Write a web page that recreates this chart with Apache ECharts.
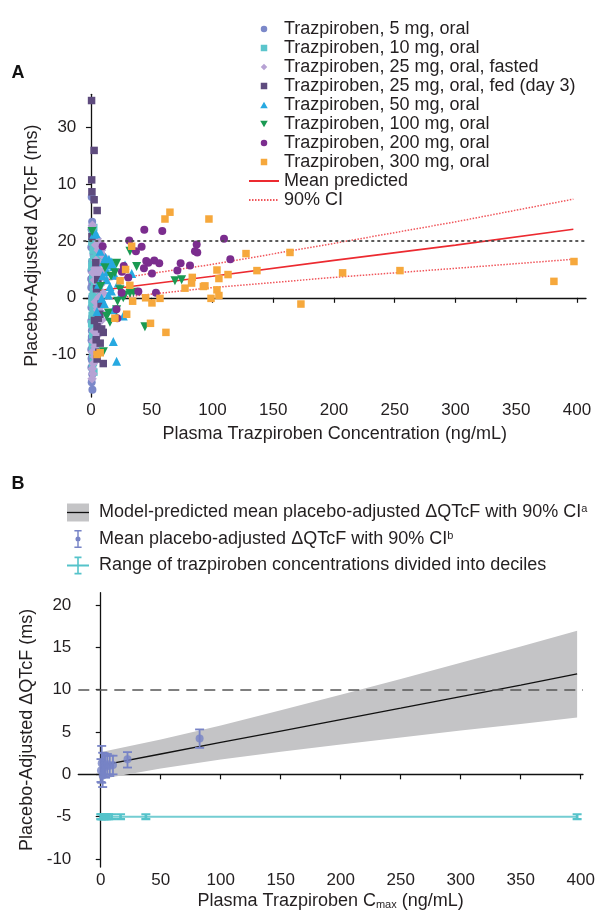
<!DOCTYPE html>
<html><head><meta charset="utf-8">
<script src="https://cdn.jsdelivr.net/npm/echarts@6/dist/echarts.min.js"></script>
<style>html,body{margin:0;padding:0;background:#fff}#c{width:598px;height:912px}</style>
</head><body><div id="c"></div><script>
const FONT = '"Liberation Sans", Arial, Helvetica, sans-serif';
const TXT = '#231F20';

// ---------- Panel A data ----------
const xTicks = [0, 50, 100, 150, 200, 250, 300, 350, 400];
const yTickValuesA = [-10, 0, 10, 20, 30];
const yTickLabelsA = ['-10', '0', '20', '10', '30'];
const thresholdA = 10;

const doseNames = ['Trazpiroben, 5 mg, oral', 'Trazpiroben, 10 mg, oral', 'Trazpiroben, 25 mg, oral, fasted',
  'Trazpiroben, 25 mg, oral, fed (day 3)', 'Trazpiroben, 50 mg, oral', 'Trazpiroben, 100 mg, oral',
  'Trazpiroben, 200 mg, oral', 'Trazpiroben, 300 mg, oral'];

const dose5 = [[0.6,17.8],[1.2,-16.2],[0.5,12.1],[1.4,10.3],[0.3,8.9],[2.1,7.6],[0.9,6.4],[2.6,5.7],[0.4,4.8],[1.8,3.9],
  [1.0,2.6],[0.3,1.8],[2.3,0.9],[0.8,0.1],[1.5,-0.8],[0.4,-1.7],[2.4,-2.5],[1.1,-3.4],[0.3,-4.1],[1.9,-4.9],
  [0.7,-5.8],[2.2,-6.7],[0.5,-7.5],[1.6,-8.4],[0.3,-9.1],[1.3,-10.2],[0.9,-11.0],[0.4,-12.3],[1.1,-13.5],[0.6,-14.9],
  [3.0,2.2],[3.3,-3.0],[2.8,7.9],[2.9,-6.3],[1.2,9.6],[1.7,-1.2],[0.2,3.3],[2.0,-9.4],[1.9,11.2],[0.5,-10.7],
  [1.4,5.1],[2.7,-0.4],[0.7,-6.9],[1.0,13.4]];
const dose10 = [[1.3,11.4],[2.9,10.6],[0.9,9.8],[3.8,9.1],[1.8,8.4],[4.6,7.7],[2.4,7.0],[6.6,7.1],[1.1,6.3],[3.4,5.9],
  [5.2,5.2],[1.9,4.6],[4.0,4.0],[1.5,3.3],[3.0,2.7],[5.4,2.1],[2.1,1.5],[3.8,0.8],[1.2,0.2],[2.8,-0.5],
  [4.7,-1.1],[1.7,-1.8],[3.5,-2.4],[1.0,-3.1],[2.5,-3.8],[4.3,-4.4],[1.9,-5.1],[3.1,-5.8],[1.4,-6.5],[3.9,-7.2],
  [2.2,-7.9],[1.2,-8.6],[2.7,-9.3],[1.6,-10.0],[3.2,-10.7],[2.0,-11.4],[1.4,-12.2],[2.4,-13.1],[6.1,3.6],[5.8,-2.7],
  [4.4,6.5],[0.8,-0.9],[4.9,-6.2],[4.1,10.1],[2.3,12.4],[0.7,5.5],[5.0,0.3],[0.6,-4.6],[3.6,-8.8],[2.6,9.4]];
const dose25fasted = [[1.2,12.8],[0.9,-14.3],[1.6,-13.4],[2.4,11.3],[5.2,10.4],[7.1,9.6],[9.3,9.0],[6.0,8.4],[8.4,7.8],[10.6,7.3],
  [4.1,6.6],[7.8,6.0],[3.2,5.2],[9.8,4.6],[5.7,3.9],[2.8,3.1],[8.0,2.3],[4.4,1.5],[10.2,0.8],[6.6,0.1],
  [3.6,-0.7],[8.9,-1.4],[5.4,-2.1],[9.6,-2.8],[7.2,-3.5],[4.0,-4.3],[6.3,-5.0],[2.4,-5.9],[4.8,-6.8],[1.9,-7.7],
  [3.4,-8.6],[1.3,-9.5],[2.9,-10.4],[2.0,-11.6],[1.1,-12.5],[7.5,-1.0],[11.4,3.4],[3.9,9.3],[6.8,-6.1],[1.5,4.4],
  [8.6,8.4],[6.4,5.0],[9.0,-3.9],[5.1,-1.6]];
const dose25fed = [[0.5,34.8],[2.6,26.0],[0.6,20.8],[0.8,18.7],[2.6,17.3],[5.1,15.4],[0.8,10.8],[4.0,6.2],[5.6,3.2],[4.6,1.6],
  [8.4,-1.1],[7.2,-2.9],[5.0,-5.1],[10.1,-6.1],[4.3,-7.4],[7.6,-8.0],[5.1,-10.8],[10.1,-11.6],[6.4,-9.6],[2.9,-4.0],
  [8.8,-5.5],[6.0,-3.6]];
const dose50 = [[2.3,11.2],[4.2,11.3],[15.6,5.8],[17.1,6.3],[18.6,5.5],[28.0,5.8],[33.5,4.3],[19.7,4.0],[12.9,3.2],[15.6,2.0],
  [22.5,2.6],[14.3,0.5],[8.8,-0.1],[18.4,-2.1],[26.6,-3.2],[18.4,-7.7],[21.1,-11.2],[10.3,6.4],[13.5,4.6],[6.2,2.4],
  [11.0,-1.0],[16.8,1.2],[7.5,8.2],[24.5,0.6],[5.0,-2.4],[12.0,7.1],[14.8,6.8],[9.6,3.9]];
const dose100 = [[0.9,11.7],[32.1,8.2],[21.1,6.1],[37.6,5.5],[19.7,4.4],[69.1,3.0],[74.6,3.2],[32.1,0.8],[26.6,0.0],[21.9,-0.6],
  [14.3,-2.7],[12.9,-3.3],[44.4,-5.1],[10.2,-9.5],[15.6,-4.3],[21.1,-2.1],[23.9,1.4],[28.0,0.5],[16.5,3.8],[11.5,5.3],
  [35.0,1.0],[8.0,2.0]];
const dose200 = [[43.9,12.0],[58.7,11.8],[31.5,10.1],[41.7,9.0],[37.0,8.2],[87.0,9.4],[85.6,8.2],[87.5,8.0],[109.5,10.4],[114.7,6.8],
  [52.1,6.6],[47.2,6.2],[56.2,6.1],[43.6,5.2],[50.2,4.3],[73.8,6.1],[71.1,4.8],[81.5,5.7],[25.5,4.6],[30.7,3.6],
  [39.0,1.1],[53.5,0.9],[25.2,0.9],[21.7,-3.6],[21.0,-2.0],[9.6,9.1],[27.0,5.6],[45.5,6.5]];
const dose300 = [[60.9,13.9],[65.0,15.1],[97.1,13.9],[127.6,7.8],[163.8,8.0],[103.7,4.9],[105.3,3.4],[112.8,4.1],[136.6,4.8],[83.4,3.6],
  [82.8,2.6],[77.4,1.7],[92.5,2.0],[93.8,2.1],[103.7,1.4],[105.3,0.4],[98.8,-0.1],[45.0,0.0],[50.2,-0.9],[56.8,-0.1],
  [34.3,-0.6],[29.4,-2.9],[49.0,-4.5],[61.7,-6.1],[33.5,9.1],[19.7,-3.6],[7.6,-9.7],[5.0,-10.0],[32.0,2.2],[172.8,-1.1],
  [207.1,4.4],[254.3,4.8],[381.0,2.9],[397.5,6.4],[28.5,5.0],[24.0,3.0]];

const predX_A = [0, 100, 200, 300, 397];
const predMean_A = [1.1, 3.8, 6.6, 9.3, 12.1];
const predUpper_A = [2.7, 5.9, 9.6, 13.4, 17.4];
const predLower_A = [-0.5, 1.8, 3.6, 5.2, 6.8];

// ---------- Panel B data ----------
const yTicksB = [-10, -5, 0, 5, 10, 15, 20];
const thresholdB = 10;
const bandX = [0.5, 50, 100, 150, 200, 250, 300, 350, 397];
const bandMean = [1.05, 2.40, 3.76, 5.11, 6.46, 7.81, 9.17, 10.52, 11.85];
const bandUpper = [2.65, 4.11, 5.77, 7.55, 9.39, 11.26, 13.18, 15.10, 16.95];
const bandLower = [-0.55, 0.69, 1.75, 2.67, 3.53, 4.36, 5.16, 5.94, 6.70];

const obsX = [0.2, 0.8, 1.6, 2.8, 4.0, 5.5, 7.5, 10.2, 22.3, 82.4];
const obsMean = [0.45, 1.3, -0.15, 1.1, 0.9, 1.2, 1.0, 1.1, 1.77, 4.22];
const obsLow = [-0.9, -1.0, -1.5, -0.3, -0.4, 0.0, -0.2, 0.0, 0.8, 3.12];
const obsHigh = [1.8, 3.35, 2.55, 2.5, 2.2, 2.4, 2.2, 2.2, 2.62, 5.3];

const decileBounds = [0, 0.5, 1.2, 2.2, 3.4, 4.9, 6.6, 9.0, 16.5, 37.6, 397];
const decileY = -5;

const legendNameB1 = 'Model-predicted mean placebo-adjusted ΔQTcF with 90% CI';
const legendNameB2 = 'Mean placebo-adjusted ΔQTcF with 90% CI';
const legendNameB3 = 'Range of trazpiroben concentrations divided into deciles';

// ---------- styles ----------
const doseColors = ['#7B88C9', '#5BC5CC', '#B7A2D4', '#5E4B7E', '#27A9E1', '#1A9A52', '#7B2D8E', '#F6A83C'];
const SQ = 'path://M0,0H10V10H0Z';
const DIA = 'path://M5,0L10,5L5,10L0,5Z';
const UPTRI = 'path://M5,0L10,8.66L0,8.66Z';
const DNTRI = 'path://M0,0L10,0L5,8.66Z';
const doseSymbols = ['circle', SQ, DIA, SQ, UPTRI, DNTRI, 'circle', SQ];
const doseSizes = [8, 7.5, 9.5, 7.5, 9, 9, 8, 7.5];
const doseData = [dose5, dose10, dose25fasted, dose25fed, dose50, dose100, dose200, dose300];

const ebColor = '#7783C6';
const cyan = '#55C3CA';

function pairs(xs, ys) { return xs.map((x, i) => [x, ys[i]]); }

const axisLineStyle = { lineStyle: { color: '#111', width: 1.3 } };
const tickStyle = { show: true, length: 5, lineStyle: { color: '#111', width: 1.2 } };
const labelBase = { fontSize: 17, color: TXT, fontFamily: FONT };
const nameStyle = { fontSize: 18, color: TXT, fontFamily: FONT };

const series = [];
// Panel A lines
series.push({
  name: 'Mean predicted', type: 'line', xAxisIndex: 0, yAxisIndex: 0, data: pairs(predX_A, predMean_A),
  symbol: 'none', lineStyle: { color: '#EC2A30', width: 1.6 }, itemStyle: { color: '#EC2A30' }, z: 2,
  markLine: { silent: true, symbol: 'none', label: { show: false },
    lineStyle: { color: '#4a4a4a', type: [3, 3], width: 1.8 }, data: [{ yAxis: thresholdA }] }
});
series.push({
  name: '90% CI', type: 'line', xAxisIndex: 0, yAxisIndex: 0, data: pairs(predX_A, predUpper_A),
  symbol: 'none', lineStyle: { color: '#F0555A', width: 1.5, type: [1.5, 1.5] }, itemStyle: { color: '#F0555A' }, z: 2
});
series.push({
  name: '90% CI', type: 'line', xAxisIndex: 0, yAxisIndex: 0, data: pairs(predX_A, predLower_A),
  symbol: 'none', lineStyle: { color: '#F0555A', width: 1.5, type: [1.5, 1.5] }, itemStyle: { color: '#F0555A' }, z: 2
});
// Panel A scatter
doseNames.forEach((n, i) => {
  series.push({
    name: n, type: 'scatter', xAxisIndex: 0, yAxisIndex: 0, data: doseData[i],
    symbol: doseSymbols[i], symbolSize: doseSizes[i], itemStyle: { color: doseColors[i], opacity: 1 }, z: 3
  });
});

// Panel B band
series.push({
  name: legendNameB1, type: 'custom', xAxisIndex: 1, yAxisIndex: 1,
  data: pairs(bandX, bandMean), encode: { x: 0, y: 1 },
  itemStyle: { color: '#C4C4C6' }, z: 1,
  renderItem: function (params, api) {
    if (params.dataIndex !== 0) return null;
    const pts = [];
    for (let i = 0; i < bandX.length; i++) pts.push(api.coord([bandX[i], bandUpper[i]]));
    for (let i = bandX.length - 1; i >= 0; i--) pts.push(api.coord([bandX[i], bandLower[i]]));
    return { type: 'polygon', shape: { points: pts }, style: { fill: '#C4C4C6' } };
  }
});
series.push({
  name: 'model mean line', type: 'line', xAxisIndex: 1, yAxisIndex: 1, data: pairs(bandX, bandMean),
  symbol: 'none', lineStyle: { color: '#111', width: 1.3 }, z: 2,
  markLine: { silent: true, symbol: 'none', label: { show: false },
    lineStyle: { color: '#555', type: [11, 7], width: 1.6 }, data: [{ yAxis: thresholdB }] }
});
series.push({
  name: legendNameB3, type: 'line', xAxisIndex: 1, yAxisIndex: 1,
  data: decileBounds.map(b => [b, decileY]),
  symbol: 'path://M0,0H10V3H6.5V7H10V10H0V7H3.5V3H0Z', symbolSize: [9, 7], showSymbol: true, showAllSymbol: true,
  lineStyle: { color: '#74CDD2', width: 2 }, itemStyle: { color: cyan }, z: 3
});
series.push({
  name: legendNameB2, type: 'custom', xAxisIndex: 1, yAxisIndex: 1,
  data: obsX.map((x, i) => [x, obsMean[i], obsLow[i], obsHigh[i]]), encode: { x: 0, y: 1 },
  itemStyle: { color: ebColor }, z: 4,
  renderItem: function (params, api) {
    const x = api.value(0);
    const lo = api.coord([x, api.value(2)]);
    const hi = api.coord([x, api.value(3)]);
    const w = 4.5;
    const st = { stroke: ebColor, lineWidth: 1.8 };
    return { type: 'group', children: [
      { type: 'line', shape: { x1: lo[0], y1: lo[1], x2: hi[0], y2: hi[1] }, style: st },
      { type: 'line', shape: { x1: lo[0] - w, y1: lo[1], x2: lo[0] + w, y2: lo[1] }, style: st },
      { type: 'line', shape: { x1: hi[0] - w, y1: hi[1], x2: hi[0] + w, y2: hi[1] }, style: st }
    ] };
  }
});
series.push({
  name: legendNameB2, type: 'scatter', xAxisIndex: 1, yAxisIndex: 1, data: pairs(obsX, obsMean),
  symbol: 'circle', symbolSize: 8, itemStyle: { color: ebColor }, z: 5
});

const legendAData = doseNames.map(n => ({ name: n }))
  .concat([{ name: 'Mean predicted', itemStyle: { opacity: 0 } }, { name: '90% CI', itemStyle: { opacity: 0 } }]);

const option = {
  animation: false,
  backgroundColor: '#fff',
  textStyle: { fontFamily: FONT },
  grid: [
    { left: 83.3, right: 12, top: 94.3, bottom: 515 },
    { left: 78.3, right: 15, top: 592.7, bottom: 45 }
  ],
  xAxis: [
    { type: 'value', gridIndex: 0, min: -6.3, max: 407.4, splitLine: { show: false },
      axisLine: axisLineStyle, axisTick: Object.assign({ customValues: xTicks }, tickStyle),
      axisLabel: Object.assign({ customValues: xTicks, margin: 5 }, labelBase),
      name: 'Plasma Trazpiroben Concentration (ng/mL)', nameLocation: 'middle', nameGap: 28, nameTextStyle: nameStyle },
    { type: 'value', gridIndex: 1, min: -18.7, max: 401.9, splitLine: { show: false },
      axisLine: axisLineStyle, axisTick: Object.assign({ customValues: xTicks }, tickStyle),
      axisLabel: Object.assign({ customValues: xTicks, margin: 5 }, labelBase),
      name: 'Plasma Trazpiroben C{sub|max} (ng/mL)', nameLocation: 'middle', nameGap: 25,
      nameTextStyle: Object.assign({ rich: { sub: { fontSize: 11, color: TXT, fontFamily: FONT, verticalAlign: 'bottom', lineHeight: 18 } } }, nameStyle, { lineHeight: 18 }) }
  ],
  yAxis: [
    { type: 'value', gridIndex: 0, min: -17.5, max: 35.9, splitLine: { show: false },
      axisLine: axisLineStyle, axisTick: Object.assign({ customValues: yTickValuesA }, tickStyle),
      axisLabel: Object.assign({ customValues: yTickValuesA, margin: 7,
        formatter: v => yTickLabelsA[yTickValuesA.indexOf(v)] }, labelBase),
      name: 'Placebo-Adjusted ΔQTcF (ms)', nameLocation: 'middle', nameGap: 42, nameTextStyle: nameStyle },
    { type: 'value', gridIndex: 1, min: -10.94, max: 21.44, splitLine: { show: false },
      axisLine: axisLineStyle, axisTick: Object.assign({ customValues: yTicksB }, tickStyle),
      axisLabel: Object.assign({ customValues: yTicksB, margin: 7 }, labelBase),
      name: 'Placebo-Adjusted ΔQTcF (ms)', nameLocation: 'middle', nameGap: 38, nameTextStyle: nameStyle }
  ],
  legend: [
    { orient: 'vertical', left: 248, top: 19.5, padding: 0, itemWidth: 30, itemHeight: 6.5, itemGap: 0,
      selectedMode: false,
      textStyle: { fontSize: 18, lineHeight: 19, color: TXT, fontFamily: FONT },
      data: legendAData },
    { orient: 'vertical', left: 67, top: 503.5, padding: 0, itemWidth: 22, itemHeight: 18, itemGap: 8.5,
      selectedMode: false,
      formatter: n => n === legendNameB1 ? n + '{sup|a}' : (n === legendNameB2 ? n + '{sup|b}' : n),
      textStyle: { fontSize: 18, lineHeight: 18, color: TXT, fontFamily: FONT, padding: [0, 0, 0, 5],
        rich: { sup: { fontSize: 11, lineHeight: 18, verticalAlign: 'top', color: TXT, fontFamily: FONT } } },
      data: [
        { name: legendNameB1, icon: 'rect' },
        { name: legendNameB2, icon: 'path://M0,0H8V1.6H0Z M3.2,1.6H4.8V18.4H3.2Z M0,18.4H8V20H0Z M4,7.2A2.8,2.8,0,1,1,3.99,7.2Z' },
        { name: legendNameB3, icon: 'path://M0,8.1H22V9.9H0Z M10.2,1H11.8V17H10.2Z M7.5,0H14.5V1.8H7.5Z M7.5,16.2H14.5V18H7.5Z' }
      ] }
  ],
  graphic: [
    { type: 'text', left: 11.5, top: 64, style: { text: 'A', font: 'bold 18px ' + FONT, fill: '#111' } },
    { type: 'text', left: 11.5, top: 475, style: { text: 'B', font: 'bold 18px ' + FONT, fill: '#111' } },
    { type: 'line', shape: { x1: 67, y1: 512.5, x2: 89, y2: 512.5 }, style: { stroke: '#111', lineWidth: 1.3 }, z: 100 }
  ],
  series: series
};

const chart = echarts.init(document.getElementById('c'));
chart.setOption(option);
</script></body></html>
